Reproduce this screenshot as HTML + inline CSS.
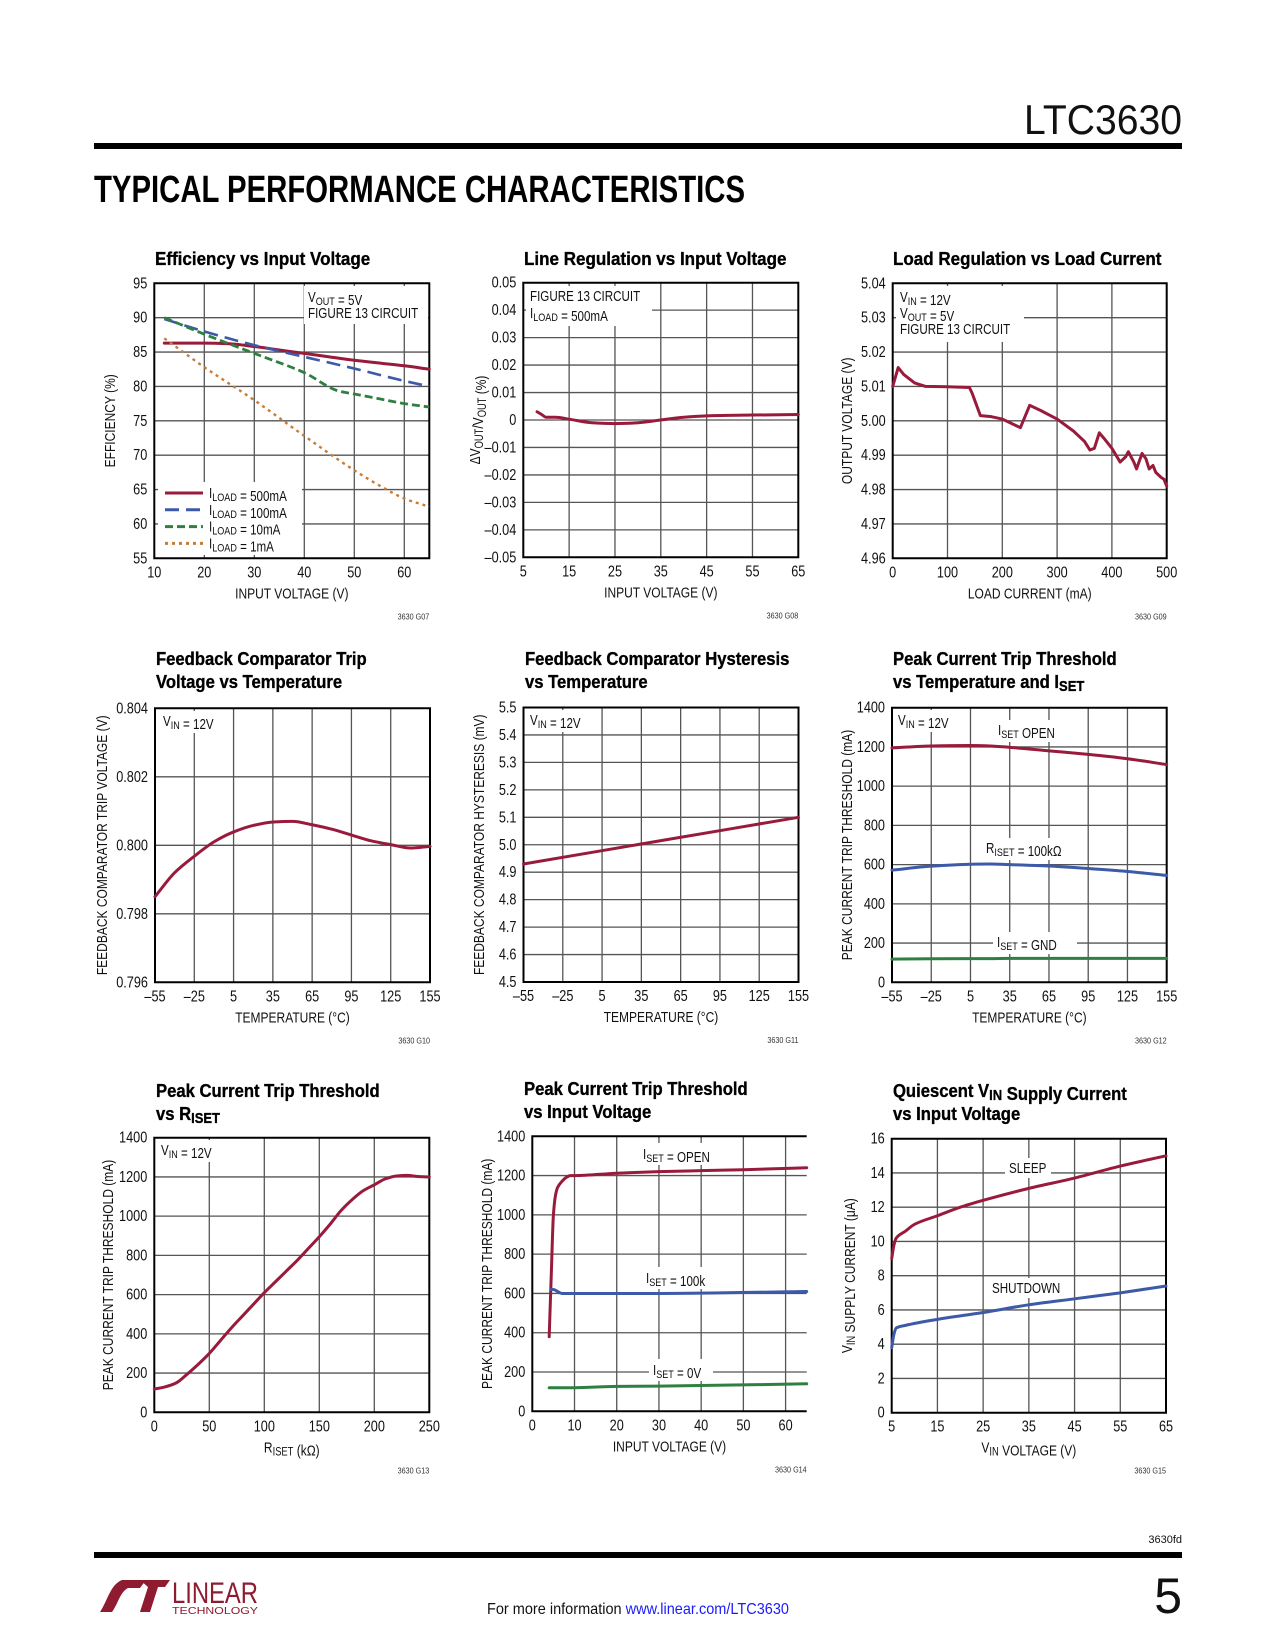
<!DOCTYPE html>
<html><head><meta charset="utf-8"><style>
html,body{margin:0;padding:0;background:#fff;}
svg{display:block;font-family:"Liberation Sans",sans-serif;}
</style></head><body>
<svg id="page" xmlns="http://www.w3.org/2000/svg" width="1275" height="1650" viewBox="0 0 1275 1650">
<rect x="0" y="0" width="1275" height="1650" fill="#fff"/>
<text x="1182" y="134" font-size="42" text-anchor="end" textLength="158" lengthAdjust="spacingAndGlyphs" fill="#111">LTC3630</text>
<rect x="94" y="143" width="1088" height="6" fill="#000"/>
<text x="94" y="202" font-size="38" font-weight="bold" textLength="651" lengthAdjust="spacingAndGlyphs" fill="#000">TYPICAL PERFORMANCE CHARACTERISTICS</text>
<text x="1182" y="1543" font-size="11" text-anchor="end" fill="#111">3630fd</text>
<rect x="94" y="1552" width="1088" height="6" fill="#000"/>
<g>
<path d="M100 1612 C108 1600 110 1585 122 1580 L146 1580 L140 1588 L128 1588 C120 1592 118 1604 112 1612 Z" fill="#8e1b30"/>
<path d="M140 1580 L170 1580 L165 1587 L158 1587 L150 1612 L140 1612 L148 1587 Z" fill="#8e1b30"/>
<text x="172" y="1603" font-size="30" fill="#8e1b30" textLength="86" lengthAdjust="spacingAndGlyphs">LINEAR</text>
<text x="172" y="1614" font-size="10" fill="#8e1b30" textLength="86" lengthAdjust="spacingAndGlyphs">TECHNOLOGY</text>
</g>
<text x="487" y="1614" font-size="16" textLength="302" lengthAdjust="spacingAndGlyphs" fill="#111">For more information <tspan fill="#1a1aff">www.linear.com/LTC3630</tspan></text>
<text x="1182" y="1613" font-size="50" text-anchor="end" fill="#111">5</text>
</svg>
<script>
// ---- Chart 1: efficiency ----
const effX = [12,20,25,30,35,40,45,50,55,60,65];
const eff500 = [86.3,86.3,86.2,85.8,85.3,84.8,84.3,83.8,83.4,83.0,82.5];
const eff100X = [12,20,30,40,50,60,65];
const eff100 = [89.8,88.0,86.0,84.3,82.6,80.8,80.0];
const eff10X = [12,20,30,40,47,50,55,60,65];
const eff10 = [90.0,87.6,84.8,82.0,79.3,78.9,78.2,77.5,77.0];
const eff1X = [12,20,30,40,50,55,60,65];
const eff1 = [87.0,82.8,78.0,72.8,67.8,65.6,63.7,62.5];
// ---- Chart 2: line regulation ----
const lineX = [8,9,10,12,15,20,25,30,35,40,45,55,65];
const lineY = [0.003,0.002,0.001,0.001,0.0003,-0.001,-0.0013,-0.001,0.0,0.001,0.0015,0.0018,0.002];
// ---- Chart 3: load regulation ----
const loadX = [0,10,20,40,60,100,140,145,160,180,200,233,250,270,300,330,350,360,368,377,385,400,415,425,430,440,445,455,462,468,475,480,490,495,500];
const loadY = [5.010,5.0155,5.0135,5.011,5.010,5.0099,5.0097,5.008,5.0015,5.0012,5.0005,4.998,5.0045,5.003,5.0005,4.997,4.994,4.9915,4.992,4.9965,4.995,4.992,4.988,4.9895,4.991,4.988,4.986,4.9905,4.989,4.986,4.987,4.985,4.9835,4.983,4.981];
// ---- Chart 4: feedback trip voltage ----
const fbX = [-55,-40,-25,-10,5,20,35,50,65,80,95,110,125,140,155];
const fbY = [0.7985,0.7992,0.79968,0.8001,0.80039,0.80058,0.80068,0.8007,0.8006,0.80047,0.8003,0.80013,0.80002,0.79992,0.79997];
// ---- Chart 5: hysteresis ----
const hysX = [-55,50,155];
const hysY = [4.93,5.015,5.10];
// ---- Chart 6: peak current vs temp ----
const ptX = [-55,-25,5,20,35,65,95,125,155];
const ptOpen = [1195,1205,1207,1205,1198,1180,1162,1140,1110];
const pt100k = [572,592,602,603,600,593,580,565,545];
const ptGnd = [118,120,121,121,122,122,122,122,122];
// ---- Chart 7: peak current vs RISET ----
const rsX = [0,10,20,30,40,50,60,70,80,90,100,110,120,130,140,150,160,170,180,190,200,210,220,230,240,250];
const rsY = [118,130,150,195,245,300,365,430,490,550,610,665,720,775,835,895,960,1030,1085,1130,1160,1190,1205,1208,1202,1200];
// ---- Chart 8: peak current vs input voltage ----
const pvOpenX = [4,4.5,5,5.5,6,7,8,9,10,20,30,40,50,65];
const pvOpen = [380,700,1000,1100,1140,1170,1190,1200,1200,1212,1220,1225,1230,1240];
const pv100X = [4.5,5,6,7,10,30,65];
const pv100 = [620,620,610,600,600,600,610];
const pv0X = [4,10,20,30,65];
const pv0 = [120,120,127,128,140];
// ---- Chart 9: quiescent current ----
const qX = [5,5.5,6,8,10,15,20,25,35,45,55,65];
const qSleep = [9.0,9.8,10.2,10.6,11.0,11.5,12.0,12.4,13.1,13.7,14.4,15.0];
const qShutX = [5,5.5,6,8,15,25,35,45,55,65];
const qShut = [3.8,4.6,4.95,5.1,5.45,5.85,6.3,6.65,7.0,7.4];

const NS = "http://www.w3.org/2000/svg";
const svg = document.getElementById('page');
const RED = "#981b3c", BLUE = "#3d5aa8", GREEN = "#2f8040", ORANGE = "#c67d38";

function mk(tag, attrs, parent) {
  const e = document.createElementNS(NS, tag);
  for (const k in attrs) e.setAttribute(k, attrs[k]);
  (parent || svg).appendChild(e);
  return e;
}
function txt(parent, x, y, html, size, anchor, sc, opts) {
  opts = opts || {};
  const t = mk('text', {transform: 'translate(' + x + ',' + y + ')' + (opts.rot ? ' rotate(' + opts.rot + ')' : '') + ' scale(' + sc + ',1)',
    'font-size': size, 'text-anchor': anchor || 'start', fill: opts.fill || '#111', 'font-weight': opts.bold ? 'bold' : 'normal'}, parent);
  if (opts.bold) { t.setAttribute('stroke', opts.fill || '#000'); t.setAttribute('stroke-width', '0.35'); }
  t.innerHTML = html;
  return t;
}
function sub(s) { return '<tspan dy="3" font-size="0.78em">' + s + '</tspan><tspan dy="-3"></tspan>'; }

// monotone cubic (Fritsch-Carlson) path in pixel space (x increasing)
function smoothPath(pts) {
  const n = pts.length;
  if (n < 3) return 'M' + pts.map(p => p[0].toFixed(2) + ',' + p[1].toFixed(2)).join(' L');
  const dx = [], s = [], m = [];
  for (let i = 0; i < n - 1; i++) { dx.push(pts[i + 1][0] - pts[i][0]); s.push((pts[i + 1][1] - pts[i][1]) / dx[i]); }
  m.push(s[0]);
  for (let i = 1; i < n - 1; i++) {
    if (s[i - 1] * s[i] <= 0) m.push(0);
    else { const w1 = 2 * dx[i] + dx[i - 1], w2 = dx[i] + 2 * dx[i - 1]; m.push((w1 + w2) / (w1 / s[i - 1] + w2 / s[i])); }
  }
  m.push(s[n - 2]);
  let d = 'M' + pts[0][0].toFixed(2) + ',' + pts[0][1].toFixed(2);
  for (let i = 0; i < n - 1; i++) {
    const h = dx[i] / 3;
    d += ' C' + (pts[i][0] + h).toFixed(2) + ',' + (pts[i][1] + m[i] * h).toFixed(2) + ' ' + (pts[i + 1][0] - h).toFixed(2) + ',' + (pts[i + 1][1] - m[i + 1] * h).toFixed(2) + ' ' + pts[i + 1][0].toFixed(2) + ',' + pts[i + 1][1].toFixed(2);
  }
  return d;
}

function chart(c) {
  const g = mk('g', {});
  
  
  c.sx = v => c.x0 + (v - c.xmin) / (c.xmax - c.xmin) * c.w;
  c.sy = v => c.y0 + c.h - (v - c.ymin) / (c.ymax - c.ymin) * c.h;
  c.g = g;
  c.title.forEach((t, i) => {
    const tt = txt(g, c.tx, c.ty + i * 23, t, 18.5, 'start', c.tsc || 0.9, {bold: true, fill: '#000'});
    
    
  });
  c.xgrid.forEach(v => {
    const l = mk('line', {x1: c.sx(v), x2: c.sx(v), y1: c.y0, y2: c.y0 + c.h, stroke: '#555', 'stroke-width': 1.3}, g);
    
    
  });
  c.ygrid.forEach(v => {
    const l = mk('line', {x1: c.x0, x2: c.x0 + c.w, y1: c.sy(v), y2: c.sy(v), stroke: '#555', 'stroke-width': 1.3}, g);
    
    
  });
  const fr = mk('path', {d: c.noRight ? ('M' + (c.x0 + c.w) + ',' + c.y0 + ' H' + c.x0 + ' V' + (c.y0 + c.h) + ' H' + (c.x0 + c.w))
      : ('M' + c.x0 + ',' + c.y0 + ' h' + c.w + ' v' + c.h + ' h' + (-c.w) + ' Z'), fill: 'none', stroke: '#000', 'stroke-width': 2}, g);
  
  
  c.xticks.forEach((v, i) => {
    const t = txt(g, c.sx(v), c.y0 + c.h + 19, c.xlabels[i], 15.5, 'middle', 0.82);
    
    
  });
  c.yticks.forEach((v, i) => {
    const t = txt(g, c.x0 - 7, c.sy(v) + 5, c.ylabels[i], 15.5, 'end', 0.82);
    
    
  });
  const xt = txt(g, c.x0 + c.w / 2, c.y0 + c.h + 40, c.xtitle, 15, 'middle', 0.8);
  
  
  const yt = txt(g, c.ytx, c.y0 + c.h / 2, c.ytitle, 15, 'middle', 0.8, {rot: -90});
  
  
  const code = txt(g, c.x0 + c.w, c.y0 + c.h + 61, c.code, 8.5, 'end', 0.85, {fill: '#333'});
  
  
  return c;
}
function series(c, xs, ys, color, name, opts) {
  opts = opts || {};
  const pts = xs.map((x, i) => [c.sx(x), c.sy(ys[i])]);
  const d = opts.straight ? ('M' + pts.map(p => p[0].toFixed(2) + ',' + p[1].toFixed(2)).join(' L')) : smoothPath(pts);
  const p = mk('path', {d: d, fill: 'none', stroke: color, 'stroke-width': opts.w || 3, 'stroke-linejoin': 'round', 'stroke-linecap': opts.dash ? 'butt' : 'round'}, c.g);
  if (opts.dash) p.setAttribute('stroke-dasharray', opts.dash);
  
  
  return p;
}
function label(c, x, y, html, name, box) {
  if (box) {
    const r = mk('rect', {x: box[0], y: box[1], width: box[2], height: box[3], fill: '#fff'}, c.g);
    
    
  }
  const t = txt(c.g, x, y, html, 14.5, 'start', 0.8);
  
  
}
function range(a, b, s) { const r = []; for (let v = a; v <= b + 1e-9; v += s) r.push(+v.toFixed(6)); return r; }
function fmt(v, d) { return (v < 0 ? '–' : '') + Math.abs(v).toFixed(d); }
const tempTicks = range(-55, 155, 30);
const tempLabels = tempTicks.map(v => fmt(v, 0));

// Chart 1
const c1 = chart({name: 'efficiency-chart', x0: 154.3, y0: 283.3, w: 275, h: 275, xmin: 10, xmax: 65, ymin: 55, ymax: 95,
  xgrid: range(20, 60, 10), ygrid: range(60, 90, 5), xticks: range(10, 60, 10), xlabels: range(10, 60, 10).map(String),
  yticks: range(55, 95, 5), ylabels: range(55, 95, 5).map(String), xtitle: 'INPUT VOLTAGE (V)', ytitle: 'EFFICIENCY (%)', ytx: 115,
  code: '3630 G07', title: ['Efficiency vs Input Voltage'], tx: 155, ty: 265, tsc: 0.92});
label(c1, 308, 302, 'V' + sub('OUT') + ' = 5V', 'vout-annotation', [304, 286, 124, 38]);
label(c1, 308, 318, 'FIGURE 13 CIRCUIT', 'circuit-annotation');
const lg = mk('rect', {x: 158, y: 482, width: 144, height: 73, fill: '#fff'}, c1.g);


series(c1, effX, eff500, RED, 'series-500ma');
series(c1, eff100X, eff100, BLUE, 'series-100ma', {dash: '14 7', w: 2.6});
series(c1, eff10X, eff10, GREEN, 'series-10ma', {dash: '8 4', w: 2.8});
series(c1, eff1X, eff1, ORANGE, 'series-1ma', {dash: '3 4', w: 2.4});
[['500mA', RED, null], ['100mA', BLUE, '14 7'], ['10mA', GREEN, '8 4'], ['1mA', ORANGE, '3 4']].forEach((e, i) => {
  const y = 493 + i * 16.8;
  const l = mk('line', {x1: 165, x2: 203, y1: y, y2: y, stroke: e[1], 'stroke-width': 3}, c1.g);
  if (e[2]) l.setAttribute('stroke-dasharray', e[2]);
  
  
  label(c1, 209, y + 5, 'I' + sub('LOAD') + ' = ' + e[0], 'legend-entry');
});

// Chart 2
const c2 = chart({name: 'line-regulation-chart', x0: 523.3, y0: 282.7, w: 275, h: 274.6, xmin: 5, xmax: 65, ymin: -0.05, ymax: 0.05,
  xgrid: range(15, 55, 10), ygrid: range(-0.04, 0.04, 0.01), xticks: range(5, 65, 10), xlabels: range(5, 65, 10).map(String),
  yticks: range(-0.05, 0.05, 0.01), ylabels: range(-0.05, 0.05, 0.01).map(v => Math.abs(v) < 1e-9 ? '0' : fmt(v, 2)),
  xtitle: 'INPUT VOLTAGE (V)', ytitle: 'ΔV' + sub('OUT') + '/V' + sub('OUT') + ' (%)', ytx: 480,
  code: '3630 G08', title: ['Line Regulation vs Input Voltage'], tx: 524, ty: 265, tsc: 0.92});
label(c2, 530, 301, 'FIGURE 13 CIRCUIT', 'circuit-annotation', [526, 286, 126, 40]);
label(c2, 530, 318, 'I' + sub('LOAD') + ' = 500mA', 'iload-annotation');
series(c2, lineX, lineY, RED, 'line-regulation-series');

// Chart 3
const c3 = chart({name: 'load-regulation-chart', x0: 892.7, y0: 283.3, w: 274, h: 275, xmin: 0, xmax: 500, ymin: 4.96, ymax: 5.04,
  xgrid: range(100, 400, 100), ygrid: range(4.97, 5.03, 0.01), xticks: range(0, 500, 100), xlabels: range(0, 500, 100).map(String),
  yticks: range(4.96, 5.04, 0.01), ylabels: range(4.96, 5.04, 0.01).map(v => v.toFixed(2)),
  xtitle: 'LOAD CURRENT (mA)', ytitle: 'OUTPUT VOLTAGE (V)', ytx: 852,
  code: '3630 G09', title: ['Load Regulation vs Load Current'], tx: 893, ty: 265, tsc: 0.92});
label(c3, 900, 302, 'V' + sub('IN') + ' = 12V', 'vin-annotation', [896, 286, 128, 56]);
label(c3, 900, 318, 'V' + sub('OUT') + ' = 5V', 'vout-annotation');
label(c3, 900, 334, 'FIGURE 13 CIRCUIT', 'circuit-annotation');
series(c3, loadX, loadY, RED, 'load-regulation-series', {straight: true});

// Chart 4
const c4 = chart({name: 'feedback-trip-chart', x0: 155, y0: 708.3, w: 275, h: 274, xmin: -55, xmax: 155, ymin: 0.796, ymax: 0.804,
  xgrid: range(-25, 125, 30), ygrid: range(0.798, 0.802, 0.002), xticks: tempTicks, xlabels: tempLabels,
  yticks: range(0.796, 0.804, 0.002), ylabels: range(0.796, 0.804, 0.002).map(v => v.toFixed(3)),
  xtitle: 'TEMPERATURE (°C)', ytitle: 'FEEDBACK COMPARATOR TRIP VOLTAGE (V)', ytx: 107,
  code: '3630 G10', title: ['Feedback Comparator Trip', 'Voltage vs Temperature'], tx: 156, ty: 665, tsc: 0.9});
label(c4, 163, 726, 'V' + sub('IN') + ' = 12V', 'vin-annotation', [159, 711, 70, 22]);
series(c4, fbX, fbY, RED, 'trip-voltage-series');

// Chart 5
const c5 = chart({name: 'hysteresis-chart', x0: 523.5, y0: 707.5, w: 275, h: 274.5, xmin: -55, xmax: 155, ymin: 4.5, ymax: 5.5,
  xgrid: range(-25, 125, 30), ygrid: range(4.6, 5.4, 0.1), xticks: tempTicks, xlabels: tempLabels,
  yticks: range(4.5, 5.5, 0.1), ylabels: range(4.5, 5.5, 0.1).map(v => v.toFixed(1)),
  xtitle: 'TEMPERATURE (°C)', ytitle: 'FEEDBACK COMPARATOR HYSTERESIS (mV)', ytx: 484,
  code: '3630 G11', title: ['Feedback Comparator Hysteresis', 'vs Temperature'], tx: 525, ty: 665, tsc: 0.9});
label(c5, 530, 725, 'V' + sub('IN') + ' = 12V', 'vin-annotation', [527, 710, 70, 22]);
series(c5, hysX, hysY, RED, 'hysteresis-series');

// Chart 6
const c6 = chart({name: 'peak-current-temp-chart', x0: 892, y0: 707.7, w: 274.7, h: 274.6, xmin: -55, xmax: 155, ymin: 0, ymax: 1400,
  xgrid: range(-25, 125, 30), ygrid: range(200, 1200, 200), xticks: tempTicks, xlabels: tempLabels,
  yticks: range(0, 1400, 200), ylabels: range(0, 1400, 200).map(String),
  xtitle: 'TEMPERATURE (°C)', ytitle: 'PEAK CURRENT TRIP THRESHOLD (mA)', ytx: 852,
  code: '3630 G12', title: ['Peak Current Trip Threshold', 'vs Temperature and I' + sub('SET')], tx: 893, ty: 665, tsc: 0.9});
label(c6, 898, 725, 'V' + sub('IN') + ' = 12V', 'vin-annotation', [895, 710, 70, 22]);
label(c6, 998, 735, 'I' + sub('SET') + ' OPEN', 'iset-open-label', [995, 720, 82, 22]);
label(c6, 986, 853, 'R' + sub('ISET') + ' = 100kΩ', 'riset-label', [983, 838, 98, 22]);
label(c6, 997, 947, 'I' + sub('SET') + ' = GND', 'iset-gnd-label', [993, 932, 84, 22]);
series(c6, ptX, ptOpen, RED, 'series-iset-open');
series(c6, ptX, pt100k, BLUE, 'series-riset-100k');
series(c6, ptX, ptGnd, GREEN, 'series-iset-gnd');

// Chart 7
const c7 = chart({name: 'peak-current-riset-chart', x0: 154.3, y0: 1137.7, w: 275, h: 274.6, xmin: 0, xmax: 250, ymin: 0, ymax: 1400,
  xgrid: range(50, 200, 50), ygrid: range(200, 1200, 200), xticks: range(0, 250, 50), xlabels: range(0, 250, 50).map(String),
  yticks: range(0, 1400, 200), ylabels: range(0, 1400, 200).map(String),
  xtitle: 'R' + sub('ISET') + ' (kΩ)', ytitle: 'PEAK CURRENT TRIP THRESHOLD (mA)', ytx: 113,
  code: '3630 G13', title: ['Peak Current Trip Threshold', 'vs R' + sub('ISET')], tx: 156, ty: 1097, tsc: 0.9});
label(c7, 161, 1155, 'V' + sub('IN') + ' = 12V', 'vin-annotation', [158, 1140, 70, 22]);
series(c7, rsX, rsY, RED, 'riset-series');

// Chart 8
const c8 = chart({name: 'peak-current-vin-chart', x0: 532.3, y0: 1136.3, w: 274.4, h: 275, xmin: 0, xmax: 65, ymin: 0, ymax: 1400,
  xgrid: range(10, 60, 10), ygrid: range(200, 1200, 200), xticks: range(0, 60, 10), xlabels: range(0, 60, 10).map(String),
  yticks: range(0, 1400, 200), ylabels: range(0, 1400, 200).map(String), noRight: true,
  xtitle: 'INPUT VOLTAGE (V)', ytitle: 'PEAK CURRENT TRIP THRESHOLD (mA)', ytx: 492,
  code: '3630 G14', title: ['Peak Current Trip Threshold', 'vs Input Voltage'], tx: 524, ty: 1095, tsc: 0.9});
label(c8, 643, 1159, 'I' + sub('SET') + ' = OPEN', 'iset-open-label', [640, 1143, 86, 22]);
label(c8, 646, 1283, 'I' + sub('SET') + ' = 100k', 'iset-100k-label', [643, 1267, 84, 22]);
label(c8, 653, 1375, 'I' + sub('SET') + ' = 0V', 'iset-0v-label', [649, 1359, 64, 22]);
series(c8, pvOpenX, pvOpen, RED, 'series-iset-open');
series(c8, pv100X, pv100, BLUE, 'series-iset-100k');
series(c8, pv0X, pv0, GREEN, 'series-iset-0v');

// Chart 9
const c9 = chart({name: 'quiescent-current-chart', x0: 891.7, y0: 1138.7, w: 274.3, h: 274, xmin: 5, xmax: 65, ymin: 0, ymax: 16,
  xgrid: range(15, 55, 10), ygrid: range(2, 14, 2), xticks: range(5, 65, 10), xlabels: range(5, 65, 10).map(String),
  yticks: range(0, 16, 2), ylabels: range(0, 16, 2).map(String),
  xtitle: 'V' + sub('IN') + ' VOLTAGE (V)', ytitle: 'V' + sub('IN') + ' SUPPLY CURRENT (μA)', ytx: 852,
  code: '3630 G15', title: ['Quiescent V' + sub('IN') + ' Supply Current', 'vs Input Voltage'], tx: 893, ty: 1097, tsc: 0.9});
label(c9, 1009, 1173, 'SLEEP', 'sleep-label', [1005, 1158, 46, 20]);
label(c9, 992, 1293, 'SHUTDOWN', 'shutdown-label', [988, 1278, 76, 20]);
series(c9, qX, qSleep, RED, 'series-sleep');
series(c9, qShutX, qShut, BLUE, 'series-shutdown');
</script>
</body></html>
